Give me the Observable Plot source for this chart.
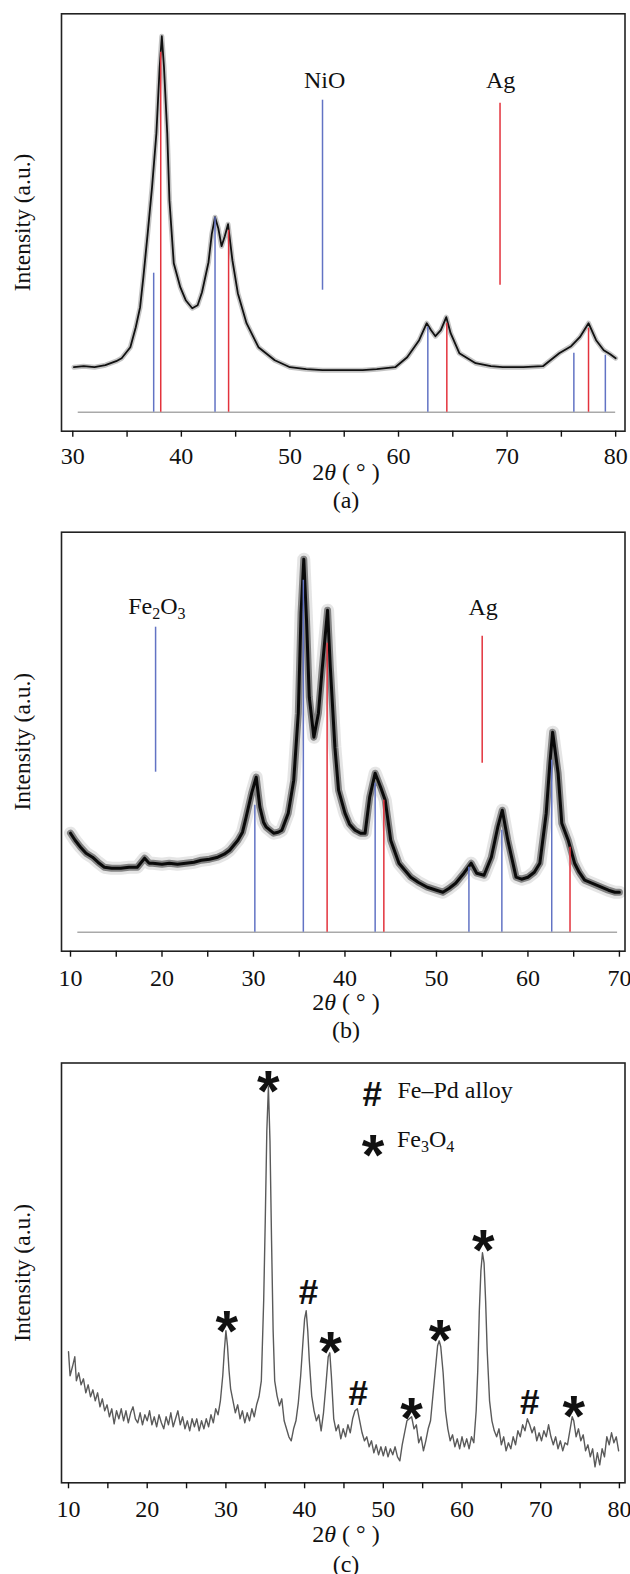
<!DOCTYPE html>
<html>
<head>
<meta charset="utf-8">
<script src="https://cdn.jsdelivr.net/npm/d3@7"></script>
<script src="https://cdn.jsdelivr.net/npm/@observablehq/plot@0.6"></script>
<style>
  body { margin: 0; background: #fff; }
  #chart { width: 630px; }
  #chart svg { display: block; }
  #chart svg text { font-family: "Liberation Serif", "Times New Roman", Times, "DejaVu Serif", serif; }
  #chart svg g.sym text { font-family: "Liberation Sans", Arial, "DejaVu Sans", sans-serif; font-weight: bold; }
</style>
</head>
<body>
<div id="chart"></div>
<script>
// ---------------- DATA ----------------
// Panel (a): NiO / Ag
const curveA = [[30.1,45],[31,46],[32,45],[33,47],[34,51],[34.5,54],[35.3,65],[35.8,85],[36.2,105],[36.5,135],[36.9,179],[37.3,225],[37.7,279],[38.0,345],[38.2,376],[38.4,345],[38.7,279],[38.9,212],[39.3,149],[39.9,125],[40.4,112],[41.0,104],[41.5,107],[41.9,120],[42.5,150],[42.8,178],[43.1,195],[43.4,184],[43.7,166],[44.0,176],[44.3,188],[44.7,152],[45.2,119],[46.0,89],[47.1,65],[48.6,52],[50,45],[51.5,43],[53,42],[55,42],[56.7,42],[58,43],[59.7,45],[60.8,55],[61.9,72],[62.6,89],[63.0,82],[63.4,76],[63.9,82],[64.4,95],[64.8,79],[65.6,59],[67.1,49],[68.5,46],[69.6,45],[71.5,45],[73.3,46],[74.8,59],[75.9,66],[76.7,75],[77.5,89],[78.2,72],[78.9,62],[79.5,58],[80,54]];
const nioPeaks = [[37.45,139],[43.1,195],[62.7,85],[76.15,59],[79.05,57]];
const agPeaksA = [[38.1,360],[44.35,182],[64.45,89],[77.5,84]];
const baselineA = [30.5, 80];
const legendA = [{label: "NiO", x: 53.2, y: 332, stickX: 53.0, y1: 122, y2: 312, phase: "NiO"},
                 {label: "Ag", x: 69.4, y: 332, stickX: 69.35, y1: 127, y2: 309, phase: "Ag"}];
const ticksA = [30,35,40,45,50,55,60,65,70,75,80];

// Panel (b): Fe2O3 / Ag
const curveB = [[10.0,99],[10.5,92],[11.1,85],[11.7,79],[12.4,75],[13.0,70],[13.7,65],[14.5,64],[15.5,64],[16.4,65],[17.3,65],[18.1,74],[18.6,69],[19.0,69],[20.0,68],[20.8,69],[21.7,68],[22.6,69],[23.5,70],[24.3,72],[25.2,73],[26.1,75],[26.8,78],[27.4,82],[28.3,92],[28.8,100],[29.2,115],[29.8,139],[30.3,155],[30.7,125],[31.1,110],[31.4,105],[32.2,99],[32.7,100],[33.1,102],[33.8,119],[34.4,152],[34.9,219],[35.2,319],[35.5,373],[35.8,312],[36.1,235],[36.6,195],[37.1,219],[37.5,262],[38.1,322],[38.4,265],[38.9,185],[39.3,142],[40.0,119],[40.5,108],[41.1,102],[41.7,99],[42.2,99],[42.7,135],[43.3,159],[43.9,145],[44.4,132],[45.0,92],[45.9,69],[47.2,55],[48.0,50],[49.0,45],[50.0,42],[50.7,40],[51.4,44],[52.1,49],[53.0,59],[53.8,69],[54.4,59],[55.2,57],[56.0,75],[56.7,105],[57.2,122],[57.8,92],[58.7,55],[59.3,53],[60.0,55],[60.7,60],[61.3,69],[62.0,119],[62.4,169],[62.7,200],[63.3,159],[63.7,109],[64.4,92],[65.1,69],[65.6,60],[66.2,52],[67.5,47],[68.8,42],[69.5,40],[70.0,40]];
const fe2o3Peaks = [[30.15,127],[35.45,352],[43.3,149],[53.55,65],[57.15,102],[62.6,172]];
const agPeaksB = [[38.05,289],[44.25,132],[64.6,85]];
const baselineB = [10.8, 69.8];
const legendB = [{x: 19.5, y: 325, stickX: 19.3, y1: 160, y2: 305, phase: "Fe2O3"},
                 {label: "Ag", x: 55.1, y: 325, stickX: 55.0, y1: 169, y2: 296, phase: "Ag"}];
const ticksB = [10,15,20,25,30,35,40,45,50,55,60,65,70];

// Panel (c): Fe–Pd alloy / Fe3O4
const curveC = [[10.0,131],[10.2,107],[10.5,116],[10.8,126],[11.0,102],[11.3,110],[11.6,98],[11.9,104],[12.2,90],[12.5,98],[12.8,86],[13.1,93],[13.4,82],[13.7,90],[14.0,76],[14.3,84],[14.6,72],[14.9,78],[15.2,66],[15.5,74],[15.8,59],[16.1,72],[16.4,64],[16.7,74],[17.0,62],[17.3,72],[17.6,60],[17.9,70],[18.2,76],[18.5,64],[18.8,60],[19.1,70],[19.4,58],[19.7,68],[20.0,62],[20.3,72],[20.6,58],[20.9,66],[21.2,56],[21.5,68],[21.8,60],[22.1,54],[22.4,66],[22.7,58],[23.0,70],[23.3,56],[23.6,64],[23.9,72],[24.2,58],[24.5,66],[24.8,54],[25.1,62],[25.4,52],[25.7,64],[26.0,56],[26.3,64],[26.6,52],[26.9,62],[27.2,54],[27.5,64],[27.8,56],[28.1,68],[28.4,60],[28.7,74],[29.0,68],[29.3,82],[29.6,107],[29.8,132],[30.0,152],[30.2,137],[30.4,112],[30.6,94],[30.9,82],[31.2,70],[31.5,78],[31.8,64],[32.1,72],[32.4,60],[32.7,70],[33.0,62],[33.3,74],[33.6,66],[33.9,78],[34.2,86],[34.5,102],[34.8,182],[35.0,262],[35.2,352],[35.4,396],[35.6,342],[35.8,242],[36.0,152],[36.2,102],[36.5,87],[36.8,77],[37.1,84],[37.4,62],[37.7,54],[38.0,46],[38.3,42],[38.6,54],[38.9,62],[39.2,80],[39.5,107],[39.8,142],[40.0,164],[40.2,172],[40.4,152],[40.6,122],[40.9,87],[41.2,72],[41.5,62],[41.8,68],[42.1,52],[42.4,70],[42.7,97],[43.0,126],[43.2,130],[43.4,107],[43.7,64],[44.0,52],[44.3,58],[44.6,44],[44.9,54],[45.2,46],[45.5,58],[45.8,50],[46.1,64],[46.4,72],[46.7,74],[47.0,62],[47.3,50],[47.6,42],[47.9,46],[48.2,36],[48.5,42],[48.8,30],[49.1,38],[49.4,28],[49.7,36],[50.0,27],[50.3,36],[50.6,26],[50.9,34],[51.2,28],[51.5,36],[51.8,26],[52.1,22],[52.4,38],[52.7,50],[53.0,62],[53.3,64],[53.6,66],[53.9,54],[54.2,58],[54.5,40],[54.8,46],[55.1,32],[55.4,42],[55.7,54],[56.0,62],[56.3,87],[56.6,112],[56.9,137],[57.1,142],[57.3,136],[57.6,110],[57.9,72],[58.2,54],[58.5,42],[58.8,48],[59.1,36],[59.4,44],[59.7,34],[60.0,46],[60.3,36],[60.6,44],[60.9,34],[61.2,46],[61.5,40],[61.8,72],[62.0,112],[62.2,172],[62.4,212],[62.6,230],[62.8,220],[63.0,182],[63.2,132],[63.5,82],[63.8,62],[64.1,52],[64.4,46],[64.7,54],[65.0,38],[65.3,46],[65.6,32],[65.9,40],[66.2,34],[66.5,46],[66.8,38],[67.1,52],[67.4,46],[67.7,58],[68.0,52],[68.3,64],[68.6,58],[68.9,50],[69.2,56],[69.5,42],[69.8,50],[70.1,42],[70.4,52],[70.7,46],[71.0,58],[71.3,46],[71.6,38],[71.9,46],[72.2,34],[72.5,42],[72.8,32],[73.1,40],[73.4,38],[73.7,52],[74.0,66],[74.2,62],[74.5,46],[74.8,54],[75.1,42],[75.4,48],[75.7,32],[76.0,38],[76.3,26],[76.6,34],[76.9,16],[77.2,30],[77.5,18],[77.8,34],[78.1,26],[78.4,46],[78.7,38],[79.0,50],[79.3,40],[79.6,46],[79.9,32]];
const starsC = [[30.1,165],[35.4,405],[43.3,144],[53.6,78],[57.2,156],[62.7,246],[74.2,80]];
const hashesC = [[40.5,191],[46.8,90],[68.6,81]];
const legendHash = [{sx: 48.6, sy: 389, tx: 51.8, ty: 392, label: "Fe–Pd alloy"}];
const legendStar = [{sx: 48.7, sy: 341, tx: 51.8, ty: 343, label: "Fe3O4"}];
const ticksC = [10,15,20,25,30,35,40,45,50,55,60,65,70,75,80];

// ---------------- STYLE ----------------
const BLUE = "#6273c4", RED = "#e3323c", GRAY = "#a9a9a9";
const SERIF = '"Liberation Serif", "Times New Roman", Times, "DejaVu Serif", serif';
const FS = 24;

function richText(svg, x, y, parts, anchor) {
  const t = d3.select(svg).append("text")
    .attr("x", x).attr("y", y).attr("dy", "0.30em")
    .attr("text-anchor", anchor || "middle")
    .attr("font-size", FS).attr("fill", "#111");
  for (const p of parts) {
    const ts = t.append("tspan").text(p.t);
    if (p.italic) ts.attr("font-style", "italic");
    if (p.sub) ts.attr("font-size", 16).attr("dy", 5);
    if (p.unsub) ts.attr("dy", -5);
  }
  return t;
}
const subParts = {
  Fe2O3: [{t: "Fe"}, {t: "2", sub: true}, {t: "O", unsub: true}, {t: "3", sub: true}],
  Fe3O4: [{t: "Fe"}, {t: "3", sub: true}, {t: "O", unsub: true}, {t: "4", sub: true}]
};

function makePanel(cfg) {
  const plot = Plot.plot({
    width: 630, height: cfg.height,
    marginLeft: 61, marginRight: 5.5, marginTop: cfg.mt, marginBottom: cfg.mb,
    x: {domain: cfg.xDomain, label: null},
    y: {domain: cfg.yDomain, axis: null},
    style: {fontFamily: SERIF, color: "#111", background: "#fff", overflow: "visible"},
    marks: [
      ...cfg.marks,
      Plot.frame({stroke: "#222", strokeWidth: 1.6}),
      Plot.axisX({ticks: cfg.ticks, tickFormat: d => d % 10 === 0 ? String(d) : "",
                  tickSize: 6, tickPadding: cfg.tp, strokeWidth: 1.4, fontSize: 24, label: null}),
      Plot.text(["Intensity (a.u.)"], {text: d => d, frameAnchor: "left", textAnchor: "middle",
                  rotate: -90, dx: -39, fontSize: 23.5, fill: "#111"})
    ]
  });
  const fb = cfg.height - cfg.mb;
  const cx = 346;
  richText(plot, cx, fb + cfg.titleOff, [{t: "2"}, {t: "θ", italic: true}, {t: " ( ° )"}]);
  richText(plot, cx, fb + cfg.capOff, [{t: cfg.caption}]);
  if (cfg.after) cfg.after(plot);
  return plot;
}

const root = document.getElementById("chart");

// ---- Panel (a)
root.appendChild(makePanel({
  height: 517, mt: 13.3, mb: 86.3, tp: 9.4, titleOff: 42, capOff: 70,
  xDomain: [28.96, 80.86], yDomain: [-19, 398.4], ticks: ticksA, caption: "(a)",
  marks: [
    Plot.ruleY([0], {x1: baselineA[0], x2: baselineA[1], stroke: GRAY, strokeWidth: 1.6}),
    Plot.line(curveA, {x: d => d[0], y: d => d[1], stroke: "#8a8a8a", strokeWidth: 5, strokeOpacity: 0.5}),
    Plot.line(curveA, {x: d => d[0], y: d => d[1], stroke: "#111", strokeWidth: 1.8}),
    Plot.ruleX(nioPeaks, {x: d => d[0], y1: 0, y2: d => d[1], stroke: BLUE, strokeWidth: 1.5}),
    Plot.ruleX(agPeaksA, {x: d => d[0], y1: 0, y2: d => d[1], stroke: RED, strokeWidth: 1.5}),
    Plot.ruleX(legendA, {x: "stickX", y1: "y1", y2: "y2", stroke: d => d.phase === "NiO" ? BLUE : RED, strokeWidth: 1.5}),
    Plot.text(legendA, {x: "x", y: "y", text: "label", fontSize: FS, fill: "#111"})
  ]
}));

// ---- Panel (b)
root.appendChild(makePanel({
  height: 530, mt: 14.7, mb: 96.3, tp: 12, titleOff: 52, capOff: 80,
  xDomain: [9.016, 70.61], yDomain: [-19, 400], ticks: ticksB, caption: "(b)",
  marks: [
    Plot.ruleY([0], {x1: baselineB[0], x2: baselineB[1], stroke: GRAY, strokeWidth: 1.6}),
    Plot.line(curveB, {x: d => d[0], y: d => d[1], stroke: "#aaa", strokeWidth: 13, strokeOpacity: 0.3}),
    Plot.line(curveB, {x: d => d[0], y: d => d[1], stroke: "#333", strokeWidth: 7, strokeOpacity: 0.55}),
    Plot.line(curveB, {x: d => d[0], y: d => d[1], stroke: "#0a0a0a", strokeWidth: 3}),
    Plot.ruleX(fe2o3Peaks, {x: d => d[0], y1: 0, y2: d => d[1], stroke: BLUE, strokeWidth: 1.5}),
    Plot.ruleX(agPeaksB, {x: d => d[0], y1: 0, y2: d => d[1], stroke: RED, strokeWidth: 1.5}),
    Plot.ruleX(legendB, {x: "stickX", y1: "y1", y2: "y2", stroke: d => d.phase === "Ag" ? RED : BLUE, strokeWidth: 1.5}),
    Plot.text(legendB.filter(d => d.label), {x: "x", y: "y", text: "label", fontSize: FS, fill: "#111"})
  ],
  after: plot => {
    const sx = plot.scale("x"), sy = plot.scale("y");
    const d = legendB[0];
    richText(plot, sx.apply(d.x), sy.apply(d.y), subParts.Fe2O3);
  }
}));

// ---- Panel (c)
const STAR = 58, HASH = 35;
const starOpts = {text: () => "*", className: "sym", fontSize: STAR, dy: 0.26 * STAR, fill: "#111"};
const hashOpts = {text: () => "#", className: "sym", fontSize: HASH, dy: 1, fill: "#111"};
root.appendChild(makePanel({
  height: 527, mt: 15.5, mb: 91.7, tp: 11, titleOff: 52, capOff: 82,
  xDomain: [9.11, 80.71], yDomain: [0, 419.8], ticks: ticksC, caption: "(c)",
  marks: [
    Plot.line(curveC, {x: d => d[0], y: d => d[1], stroke: "#5a5a5a", strokeWidth: 1.4}),
    Plot.text(starsC, {x: d => d[0], y: d => d[1], ...starOpts}),
    Plot.text(hashesC, {x: d => d[0], y: d => d[1], ...hashOpts}),
    Plot.text(legendStar, {x: "sx", y: "sy", ...starOpts}),
    Plot.text(legendHash, {x: "sx", y: "sy", ...hashOpts}),
    Plot.text(legendHash, {x: "tx", y: "ty", text: "label", textAnchor: "start", fontSize: FS, fill: "#111"})
  ],
  after: plot => {
    const sx = plot.scale("x"), sy = plot.scale("y");
    const d = legendStar[0];
    richText(plot, sx.apply(d.tx), sy.apply(d.ty), subParts.Fe3O4, "start");
  }
}));
</script>
</body>
</html>
